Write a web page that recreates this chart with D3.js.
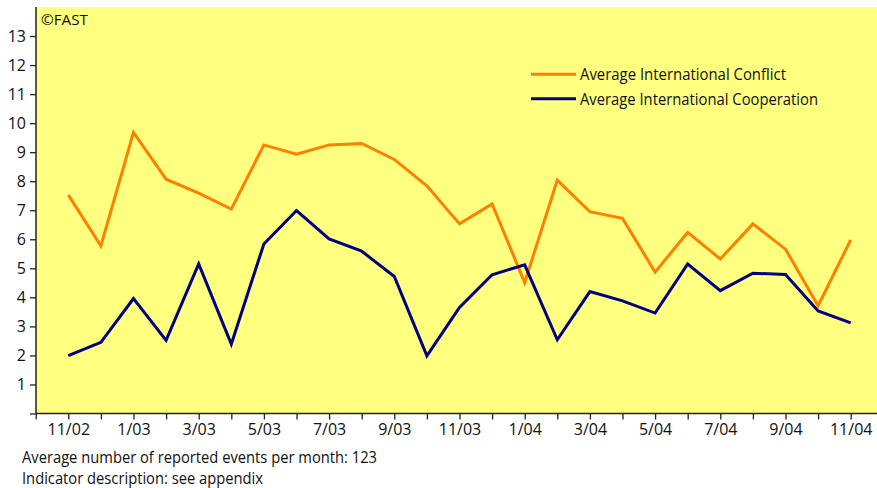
<!DOCTYPE html>
<html>
<head>
<meta charset="utf-8">
<script src="https://d3js.org/d3.v7.min.js"></script>
<style>
  html, body { margin: 0; padding: 0; background: #fff; }
  svg { display: block; }
  text { font-family: "Open Sans", "Noto Sans", sans-serif; fill: #111; }
</style>
</head>
<body>
<svg id="chart" width="877" height="488"></svg>
<script>
// Months from 11/02 to 11/04
const months = ["11/02","12/02","1/03","2/03","3/03","4/03","5/03","6/03","7/03","8/03","9/03","10/03",
  "11/03","12/03","1/04","2/04","3/04","4/04","5/04","6/04","7/04","8/04","9/04","10/04","11/04"];
const conflict = [7.53,5.77,9.68,8.07,7.59,7.04,9.25,8.93,9.25,9.30,8.75,7.84,
  6.53,7.22,4.51,8.04,6.95,6.72,4.87,6.24,5.32,6.53,5.66,3.71,5.98];
const cooperation = [1.99,2.45,3.96,2.52,5.15,2.39,5.84,6.99,6.01,5.59,4.72,1.99,
  3.65,4.78,5.12,2.54,4.20,3.88,3.46,5.15,4.23,4.83,4.79,3.53,3.12];
const yTicks = [0,1,2,3,4,5,6,7,8,9,10,11,12,13];
const seriesNames = ["Average International Conflict","Average International Cooperation"];
const footnotes = ["Average number of reported events per month: 123","Indicator description: see appendix"];

const svg = d3.select("#chart");
const pLeft = 36, pRight = 877, pTop = 7, pBottom = 413.5;

const x = d3.scaleLinear().domain([-1, 25]).range([35.7, 883.3]);
const y = d3.scaleLinear().domain([0, 14]).range([pBottom, pTop]);

// background
svg.append("rect").attr("x", pLeft).attr("y", pTop).attr("width", pRight - pLeft).attr("height", pBottom - pTop)
  .attr("fill", "#FFFF80");

// copyright
svg.append("text").attr("x", 41).attr("y", 24.5).attr("font-size", 15)
  .attr("textLength", 47).attr("lengthAdjust", "spacingAndGlyphs").text("\u00A9FAST");

// y axis
const yAxis = d3.axisLeft(y).tickValues(yTicks).tickSize(6).tickPadding(4)
  .tickFormat(d => d === 0 ? "" : d);
const gy = svg.append("g").attr("transform", `translate(${pLeft},0)`).call(yAxis);
gy.select(".domain").remove();
gy.append("line").attr("x1", 0).attr("x2", 0).attr("y1", pTop).attr("y2", pBottom).attr("stroke", "#222").attr("stroke-width", 1.5);
gy.selectAll(".tick line").attr("stroke", "#222").attr("stroke-width", 1.3);
gy.selectAll(".tick text").attr("font-size", 16).attr("font-family", "Open Sans, sans-serif").attr("fill", "#111");

// x axis
const xIdx = d3.range(-1, 25);
const xAxis = d3.axisBottom(x).tickValues(xIdx).tickSize(6).tickPadding(4)
  .tickFormat(i => (i >= 0 && i % 2 === 0) ? months[i] : "");
const gx = svg.append("g").attr("transform", `translate(0,${pBottom})`).call(xAxis);
gx.select(".domain").remove();
gx.append("line").attr("x1", pLeft).attr("x2", pRight).attr("y1", 0).attr("y2", 0).attr("stroke", "#222").attr("stroke-width", 1.5);
gx.selectAll(".tick line").attr("stroke", "#222").attr("stroke-width", 1.3);
gx.selectAll(".tick text").attr("font-size", 16).attr("font-family", "Open Sans, sans-serif").attr("fill", "#111");

// lines
const line = d3.line().x((d, i) => x(i)).y(d => y(d));
svg.append("path").datum(conflict).attr("d", line).attr("fill", "none")
  .attr("stroke", "#FF7F00").attr("stroke-width", 3).attr("stroke-linejoin", "miter");
svg.append("path").datum(cooperation).attr("d", line).attr("fill", "none")
  .attr("stroke", "#000080").attr("stroke-width", 3).attr("stroke-linejoin", "miter");

// legend
const legColors = ["#FF7F00", "#000080"];
const legW = [206, 238];
seriesNames.forEach((name, k) => {
  const ly = 74.3 + k * 24.4;
  svg.append("line").attr("x1", 531).attr("x2", 576).attr("y1", ly).attr("y2", ly)
    .attr("stroke", legColors[k]).attr("stroke-width", 3);
  svg.append("text").attr("x", 580).attr("y", ly + 6).attr("font-size", 16)
    .attr("textLength", legW[k]).attr("lengthAdjust", "spacingAndGlyphs").text(name);
});

// footnotes
const fnW = [355, 241];
footnotes.forEach((t, k) => {
  svg.append("text").attr("x", 22).attr("y", 463 + k * 21).attr("font-size", 16)
    .attr("textLength", fnW[k]).attr("lengthAdjust", "spacingAndGlyphs").text(t);
});
</script>
</body>
</html>
